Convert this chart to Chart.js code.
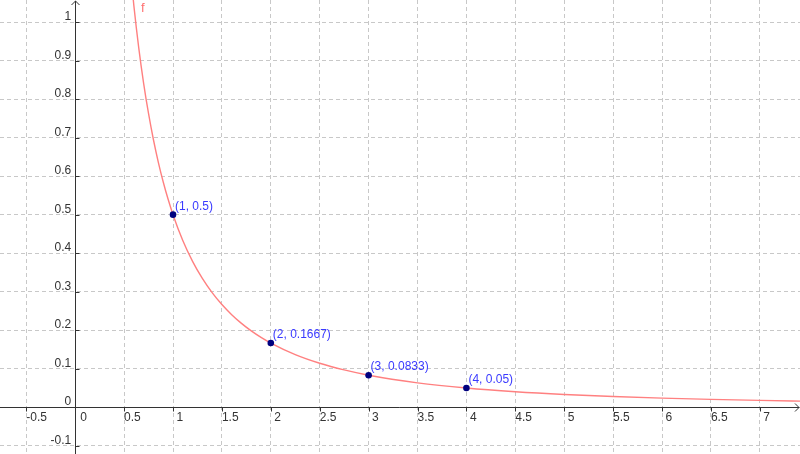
<!DOCTYPE html>
<html>
<head>
<meta charset="utf-8">
<script src="https://cdn.jsdelivr.net/npm/chart.js@4/dist/chart.umd.min.js"></script>
<style>
  html, body { margin: 0; padding: 0; background: #fff; }
  canvas { display: block; }
</style>
</head>
<body>
<canvas id="graph" width="800" height="454"></canvas>
<script>
// curve f
const curveX = [0.55, 0.6, 0.65, 0.7, 0.75, 0.8, 0.85, 0.9, 0.95, 1.0, 1.1, 1.2, 1.3, 1.4, 1.5, 1.6, 1.7, 1.8, 1.9, 2.0, 2.25, 2.5, 2.75, 3.0, 3.5, 4.0, 4.5, 5.0, 5.5, 6.0, 6.5, 7.0, 7.5];
const curveY = [1.173, 1.0417, 0.9324, 0.8403, 0.7619, 0.6944, 0.6359, 0.5848, 0.5398, 0.5, 0.4329, 0.3788, 0.3344, 0.2976, 0.2667, 0.2404, 0.2179, 0.1984, 0.1815, 0.1667, 0.1368, 0.1143, 0.097, 0.0833, 0.0635, 0.05, 0.0404, 0.0333, 0.028, 0.0238, 0.0205, 0.0179, 0.0157];

// marked points
const pointX = [1, 2, 3, 4];
const pointY = [0.5, 0.1667, 0.0833, 0.05];

// axis ticks
const xTicks = [-0.5, 0, 0.5, 1, 1.5, 2, 2.5, 3, 3.5, 4, 4.5, 5, 5.5, 6, 6.5, 7];
const xTickLabels = ["-0.5", "0", "0.5", "1", "1.5", "2", "2.5", "3", "3.5", "4", "4.5", "5", "5.5", "6", "6.5", "7"];
const yTicks = [-0.1, 0, 0.1, 0.2, 0.3, 0.4, 0.5, 0.6, 0.7, 0.8, 0.9, 1];
const yTickLabels = ["-0.1", "0", "0.1", "0.2", "0.3", "0.4", "0.5", "0.6", "0.7", "0.8", "0.9", "1"];

const FONT = "12px 'Liberation Sans', Arial, sans-serif";
const AXIS_COLOR = "#333";

// axes with arrows, drawn under the curve
const axesPlugin = {
    id: "axes",
    beforeDatasetsDraw(chart) {
        const ctx = chart.ctx;
        const xs = chart.scales.x, ys = chart.scales.y;
        const area = chart.chartArea;
        const ox = Math.round(xs.getPixelForValue(0)) + 0.5;
        const oy = Math.round(ys.getPixelForValue(0)) + 0.5;
        ctx.save();
        ctx.strokeStyle = AXIS_COLOR;
        ctx.lineWidth = 1;
        ctx.beginPath();
        ctx.moveTo(area.left, oy); ctx.lineTo(area.right - 1, oy);
        ctx.moveTo(ox, area.bottom); ctx.lineTo(ox, area.top + 1);
        // arrow heads
        ctx.moveTo(area.right - 5, oy - 4); ctx.lineTo(area.right - 1, oy); ctx.lineTo(area.right - 5, oy + 4);
        ctx.moveTo(ox - 4, area.top + 5); ctx.lineTo(ox, area.top + 1); ctx.lineTo(ox + 4, area.top + 5);
        // small tick marks
        xTicks.forEach(v => {
            if (v === 0) return;
            const px = Math.round(xs.getPixelForValue(v)) + 0.5;
            ctx.moveTo(px, oy); ctx.lineTo(px, oy + 4);
        });
        yTicks.forEach(v => {
            if (v === 0) return;
            const py = Math.round(ys.getPixelForValue(v)) + 0.5;
            ctx.moveTo(ox, py); ctx.lineTo(ox + 4, py);
        });
        ctx.stroke();
        ctx.restore();
    },
    afterDatasetsDraw(chart) {
        const ctx = chart.ctx;
        const xs = chart.scales.x, ys = chart.scales.y;
        const ox = xs.getPixelForValue(0);
        const oy = ys.getPixelForValue(0);
        ctx.save();
        ctx.font = FONT;
        ctx.fillStyle = AXIS_COLOR;
        ctx.textBaseline = "alphabetic";

        // x labels, to the right of each tick
        ctx.textAlign = "left";
        xTicks.forEach((v, i) => {
            let px = xs.getPixelForValue(v);
            if (v === 0) px += 5;
            else if (Number.isInteger(v)) px += 3.5;
            ctx.fillText(xTickLabels[i], px, oy + 13.5);
        });

        // y labels, left of the axis
        ctx.textAlign = "right";
        yTicks.forEach((v, i) => {
            ctx.fillText(yTickLabels[i], ox - 4, ys.getPixelForValue(v) - 2);
        });

        // point labels
        ctx.fillStyle = "#3a3aff";
        ctx.textAlign = "left";
        pointX.forEach((x, i) => {
            ctx.fillText("(" + x + ", " + pointY[i] + ")",
                xs.getPixelForValue(x) + 2, ys.getPixelForValue(pointY[i]) - 5);
        });

        // name of the function
        ctx.fillStyle = "#ff7070";
        ctx.font = "13px 'Liberation Sans', Arial, sans-serif";
        ctx.fillText("f", xs.getPixelForValue(0.673), ys.getPixelForValue(1.026));
        ctx.restore();
    }
};

new Chart(document.getElementById("graph").getContext("2d"), {
    type: "scatter",
    data: {
        datasets: [
            {
                label: "f",
                data: curveX.map((x, i) => ({ x: x, y: curveY[i] })),
                showLine: true,
                borderColor: "#ff8080",
                borderWidth: 1.4,
                pointRadius: 0,
                cubicInterpolationMode: "monotone",
                order: 1
            },
            {
                label: "points",
                data: pointX.map((x, i) => ({ x: x, y: pointY[i] })),
                pointRadius: 3.3,
                backgroundColor: "#00007f",
                borderColor: "#00007f",
                borderWidth: 0,
                order: 0
            }
        ]
    },
    options: {
        responsive: false,
        animation: false,
        layout: { padding: 0, autoPadding: false },
        plugins: {
            legend: { display: false },
            tooltip: { enabled: false }
        },
        scales: {
            x: {
                type: "linear",
                min: -0.769,
                max: 7.411,
                afterFit: s => { s.height = 0; },
                afterBuildTicks: s => { s.ticks = xTicks.map(v => ({ value: v })); },
                ticks: { display: false },
                grid: { color: "#c8c8c8", lineWidth: 1, drawTicks: false },
                border: { display: false, dash: [4, 3] }
            },
            y: {
                type: "linear",
                min: -0.1212,
                max: 1.0571,
                afterFit: s => { s.width = 0; },
                afterBuildTicks: s => { s.ticks = yTicks.map(v => ({ value: v })); },
                ticks: { display: false },
                grid: { color: "#c8c8c8", lineWidth: 1, drawTicks: false },
                border: { display: false, dash: [4, 3] }
            }
        }
    },
    plugins: [axesPlugin]
});
</script>
</body>
</html>
